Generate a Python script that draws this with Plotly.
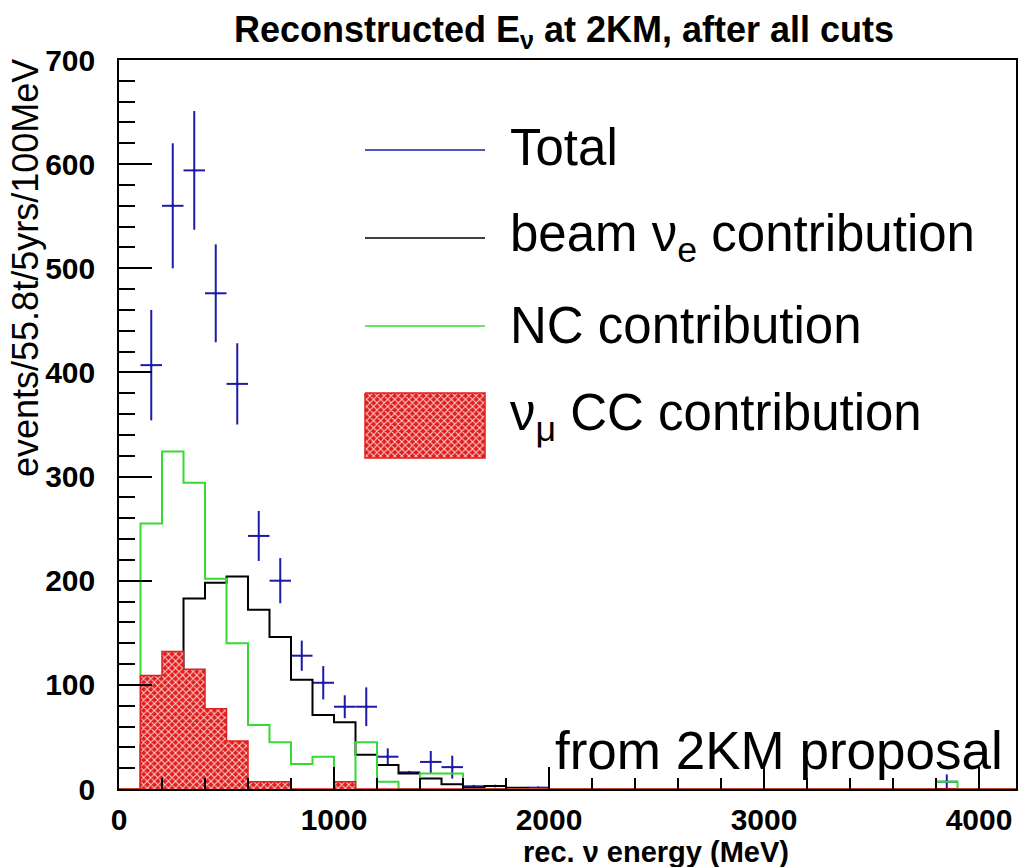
import plotly.graph_objects as go

# ---------------- data ----------------
bin_width = 100
bin_edges = list(range(0, 4200 + bin_width, bin_width))  # 0 .. 4200 MeV, 42 bins

# beam nu_e contribution (black histogram), one value per 100 MeV bin
beam_nue = [0, 42, 105, 183, 198, 204, 172, 146, 105, 71,
            64, 33, 23, 15, 10, 4.5, 1.3, 3, 1.3, 0,
            0, 0, 0, 0, 0, 0, 0, 0, 0, 0,
            0, 0, 0, 0, 0, 0, 0, 0, 0, 0,
            0, 0]

# NC contribution (green histogram)
nc = [0, 255, 324, 294, 202, 140, 61.5, 45, 24, 31,
      0, 45, 7, 0, 15, 15, 0, 0, 0, 0,
      0, 0, 0, 0, 0, 0, 0, 0, 0, 0,
      0, 0, 0, 0, 0, 0, 0, 0, 7, 0,
      0, 0]

# nu_mu CC contribution (red hatched histogram)
numu_cc = [0, 109, 132, 115, 77, 46, 7, 7, 0, 0,
           7, 0, 0, 0, 0, 0, 0, 0, 0, 0,
           0, 0, 0, 0, 0, 0, 0, 0, 0, 0,
           0, 0, 0, 0, 0, 0, 0, 0, 0, 0,
           0, 0]

# Total (blue points with error bars), at bin centres
total_x = [150, 250, 350, 450, 550, 650, 750, 850, 950, 1050,
           1150, 1250, 1350, 1450, 1550, 1650, 1750, 1950, 3850]
total_y = [407, 560, 594, 476, 389, 243, 200, 128, 102, 79,
           79, 31, 16, 26, 21, 2.6, 2.9, 1.3, 7]
total_err = [53, 60, 57, 47, 39, 24, 21.7, 14.5, 16, 11,
             18.6, 8, 0, 10.5, 11, 0, 0, 0, 7]

x_tick_vals = [0, 1000, 2000, 3000, 4000]
y_tick_vals = [0, 100, 200, 300, 400, 500, 600, 700]

# ---------------- styling ----------------
BLUE = "#1b1ba6"
GREEN = "#36d936"
RED = "#e01e1e"
FONT = "Liberation Sans"

X_MAX = 4172
Y_MAX = 700

# plot-area pixel frame (used only for placing legend/notes)
PL, PR, PT, PB = 119, 1016, 60, 789

RED_PATTERN = dict(shape="x", bgcolor=RED, fgcolor="rgba(255,225,225,0.95)",
                   size=5, solidity=0.35, fillmode="replace")


def step_xy(vals):
    return bin_edges, list(vals) + [vals[-1]]


fig = go.Figure()

fig.add_trace(go.Scatter(
    x=total_x, y=total_y, mode="markers",
    marker=dict(color=BLUE, size=3),
    error_y=dict(type="data", array=total_err, color=BLUE, thickness=2, width=0),
    error_x=dict(type="constant", value=bin_width / 2, color=BLUE, thickness=2, width=0),
    name="Total",
))

bx, by = step_xy(beam_nue)
fig.add_trace(go.Scatter(x=bx, y=by, mode="lines",
                         line=dict(color="black", width=2, shape="hv"),
                         name="beam nu_e"))

gx, gy = step_xy(nc)
fig.add_trace(go.Scatter(x=gx, y=gy, mode="lines",
                         line=dict(color=GREEN, width=2, shape="hv"),
                         name="NC"))

rx, ry = step_xy(numu_cc)
fig.add_trace(go.Scatter(
    x=rx, y=ry, mode="lines",
    line=dict(color=RED, width=1.5, shape="hv"),
    fill="tozeroy", fillcolor=RED, fillpattern=RED_PATTERN,
    name="nu_mu CC"))

# ---------------- legend (drawn manually, ROOT style, in pixel space) ----------------
def px_x(p):
    return (p - PL) / (PR - PL)


def px_y(p):
    return (PB - p) / (PB - PT)


LEG_X0, LEG_X1, LEG_TX = 365, 485, 508
legend_rows = [
    ("Total", BLUE, 150, 148),
    ("beam ν<sub>e</sub> contribution", "black", 238, 237),
    ("NC contribution", GREEN, 326, 325),
]
shapes = []
annotations = []
for text, col, yp, ty in legend_rows:
    shapes.append(dict(type="line", xref="paper", yref="paper",
                       x0=px_x(LEG_X0), x1=px_x(LEG_X1), y0=px_y(yp), y1=px_y(yp),
                       line=dict(color=col, width=1.5)))
    annotations.append(dict(text=text, xref="paper", yref="paper",
                            x=px_x(LEG_TX), y=px_y(ty), xanchor="left", yanchor="middle",
                            showarrow=False, font=dict(family=FONT, size=51, color="black")))

# patterned legend swatch, on an invisible overlay axis measured in pixels
fig.add_trace(go.Scatter(
    x=[LEG_X0, LEG_X1, LEG_X1, LEG_X0, LEG_X0],
    y=[393, 393, 458, 458, 393],
    mode="lines", line=dict(color=RED, width=1.5),
    fill="toself", fillcolor=RED, fillpattern=RED_PATTERN,
    xaxis="x2", yaxis="y2", hoverinfo="skip", name="legend swatch"))

annotations.append(dict(text="ν<sub>μ</sub> CC contribution", xref="paper", yref="paper",
                        x=px_x(LEG_TX), y=px_y(416), xanchor="left", yanchor="middle",
                        showarrow=False, font=dict(family=FONT, size=51, color="black")))

# axis titles and notes
annotations.append(dict(text="events/55.8t/5yrs/100MeV", xref="paper", yref="paper",
                        x=px_x(26), y=px_y(57), xanchor="center", yanchor="top",
                        textangle=-90, showarrow=False,
                        font=dict(family=FONT, size=36, color="black")))
annotations.append(dict(text="rec. ν energy (MeV)", xref="paper", yref="paper",
                        x=px_x(791), y=px_y(852), xanchor="right", yanchor="middle",
                        showarrow=False,
                        font=dict(family=FONT, size=29, color="black", weight="bold")))
annotations.append(dict(text="from 2KM proposal", xref="paper", yref="paper",
                        x=px_x(553), y=px_y(750), xanchor="left", yanchor="middle",
                        showarrow=False, font=dict(family=FONT, size=53, color="black")))

tick_font = dict(family=FONT, size=30, color="black", weight="bold")

fig.update_layout(
    width=1034, height=867, autosize=False,
    margin=dict(l=PL, r=1034 - PR, t=PT, b=867 - PB, pad=0),
    plot_bgcolor="white", paper_bgcolor="white",
    showlegend=False,
    title=dict(text="Reconstructed E<sub>ν</sub> at 2KM, after all cuts",
               x=px_x(564), xref="paper", xanchor="center",
               y=1 - 29 / 867, yref="container", yanchor="middle",
               font=dict(family=FONT, size=36, color="black", weight="bold")),
    shapes=shapes,
    annotations=annotations,
    xaxis=dict(range=[0, X_MAX], tickmode="array", tickvals=x_tick_vals,
               ticks="inside", ticklen=22, tickwidth=1.5, tickcolor="black",
               minor=dict(dtick=200, tick0=0, ticks="inside", ticklen=11,
                          tickwidth=1.5, tickcolor="black"),
               showline=True, linecolor="black", linewidth=1.5, mirror=True,
               showgrid=False, zeroline=False, ticklabelstandoff=3,
               tickfont=tick_font),
    yaxis=dict(range=[0, Y_MAX], tickmode="array", tickvals=y_tick_vals,
               ticks="inside", ticklen=33, tickwidth=1.5, tickcolor="black",
               minor=dict(dtick=20, tick0=0, ticks="inside", ticklen=16,
                          tickwidth=1.5, tickcolor="black"),
               showline=True, linecolor="black", linewidth=1.5, mirror=True,
               showgrid=False, zeroline=False, ticklabelstandoff=16,
               tickfont=tick_font),
    xaxis2=dict(range=[PL, PR], overlaying="x", anchor="y2", visible=False,
                fixedrange=True),
    yaxis2=dict(range=[PB, PT], overlaying="y", anchor="x2", visible=False,
                fixedrange=True),
)

fig.write_html("out.html")
